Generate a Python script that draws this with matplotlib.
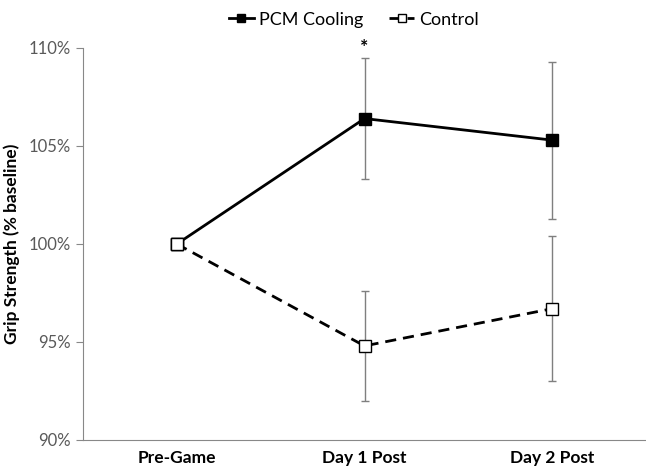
import numpy as np
import matplotlib.pyplot as plt

plt.rcParams['font.family'] = ['Lato', 'DejaVu Sans']

# data
timepoints = ["Pre-Game", "Day 1 Post", "Day 2 Post"]
pcm_mean = [100.0, 106.4, 105.3]
pcm_err = [0.0, 3.1, 4.0]
ctrl_mean = [100.0, 94.8, 96.7]
ctrl_err = [0.0, 2.8, 3.7]
yticks = [90, 95, 100, 105, 110]

x = np.arange(len(timepoints))

fig = plt.figure(figsize=(6.46, 4.72), dpi=100)
ax = fig.add_axes([83/646, 32/472, 1 - 83/646, (440-48)/472])

# error bars
ax.errorbar(x[1:], pcm_mean[1:], yerr=pcm_err[1:], fmt='none', ecolor='#7f7f7f',
            elinewidth=1, capsize=3, capthick=1, zorder=1)
ax.errorbar(x[1:], ctrl_mean[1:], yerr=ctrl_err[1:], fmt='none', ecolor='#7f7f7f',
            elinewidth=1, capsize=3, capthick=1, zorder=1)

ax.plot(x, ctrl_mean, color='black', lw=2, ls=(0, (4, 2.5)), marker='s', ms=8,
        mfc='white', mec='black', mew=1, label='Control', zorder=3)
ax.plot(x, pcm_mean, color='black', lw=2, ls='-', marker='s', ms=8,
        mfc='black', mec='black', mew=1, label='PCM Cooling', zorder=2)
# redraw pre-game marker of control on top
ax.plot(x[:1], ctrl_mean[:1], ls='none', marker='s', ms=8, mfc='white', mec='black',
        mew=1, zorder=4)

ax.text(x[1], 110.0, '*', ha='center', va='center', fontsize=14, fontweight='bold',
        clip_on=False)

ax.set_xlim(-0.5, 2.5)
ax.set_ylim(90, 110)
ax.set_yticks(yticks)
ax.set_yticklabels([f"{v}%" for v in yticks], color='#595959', fontsize=12)
ax.set_xticks(x)
ax.set_xticklabels(timepoints, fontsize=12.5, fontweight='bold')
ax.tick_params(axis='x', length=0, pad=7)
ax.tick_params(axis='y', length=5, color='#888888', pad=4, direction='out')
for s in ['top', 'right']:
    ax.spines[s].set_visible(False)
for s in ['left', 'bottom']:
    ax.spines[s].set_color('#888888')
ax.set_ylabel('Grip Strength (% baseline)', fontsize=12.5, fontweight='bold', labelpad=6)

h, l = ax.get_legend_handles_labels()
fig.legend(h[::-1], l[::-1], loc='upper center', bbox_to_anchor=(0.548, 1.01), ncol=2,
           frameon=False, fontsize=13, handlelength=1.4, columnspacing=1.4,
           handletextpad=0.3, markerscale=0.8)

fig.savefig('out.png', dpi=100)
